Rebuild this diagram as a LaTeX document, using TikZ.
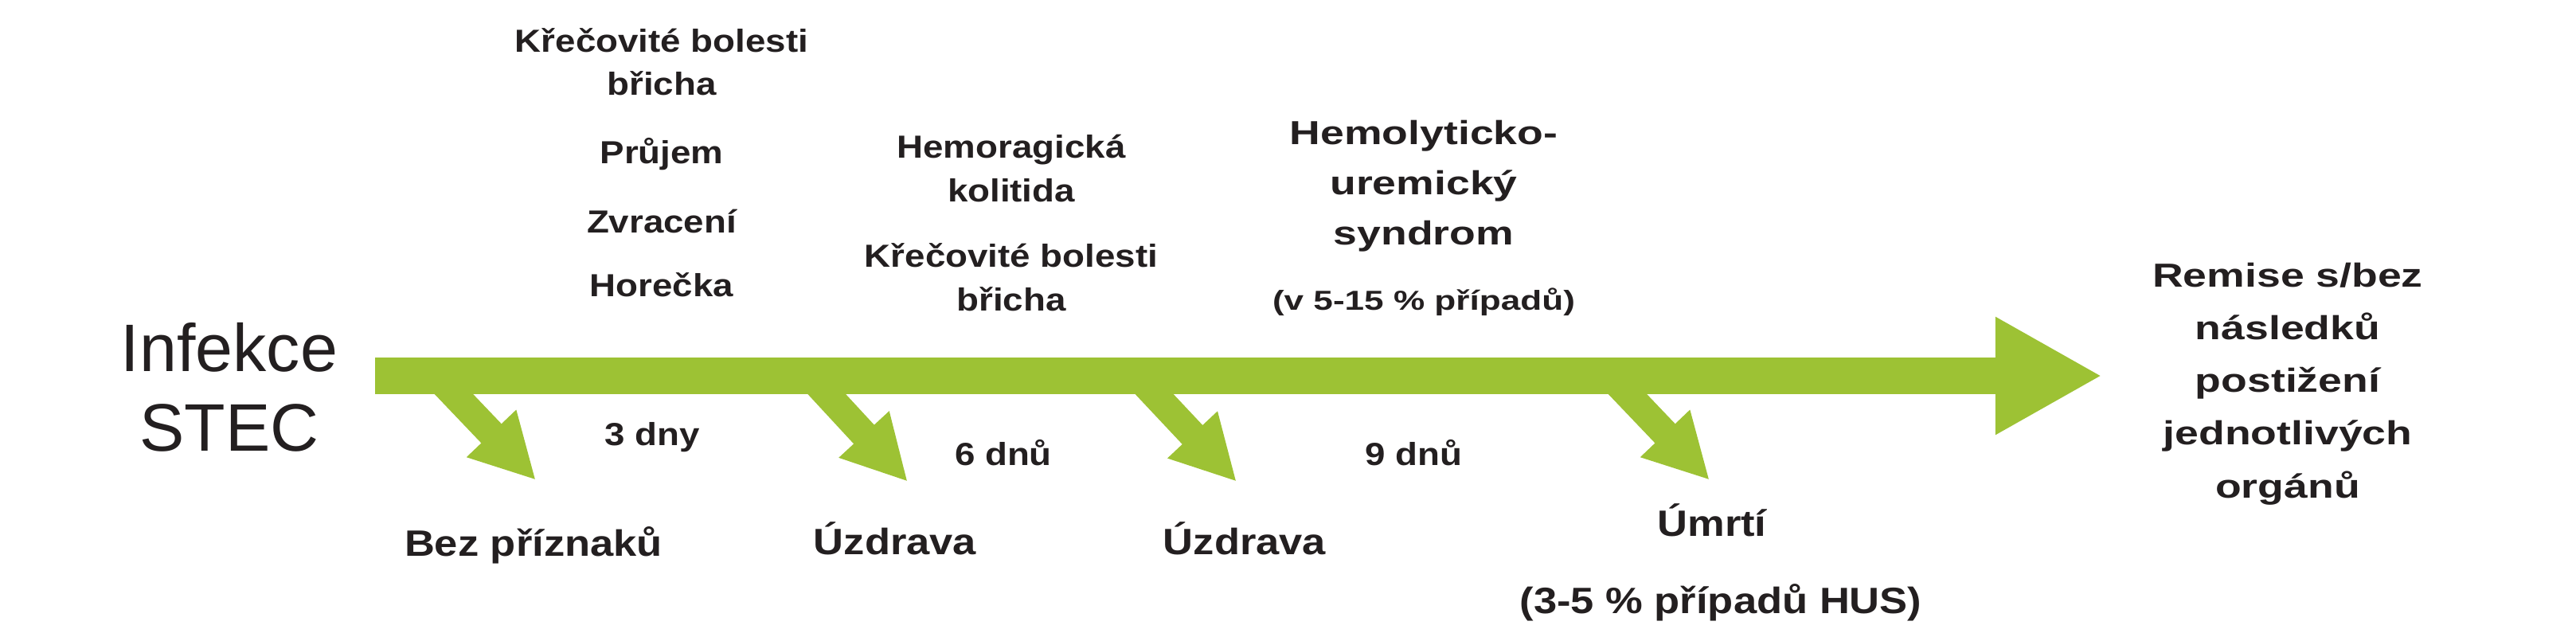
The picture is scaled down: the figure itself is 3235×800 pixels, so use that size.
\documentclass[tikz,border=0pt]{standalone}
\usepackage{fontspec}
\setmainfont{Liberation Sans}
\newfontfamily\lblfont[FakeStretch=1.14]{Liberation Sans}
\newfontfamily\widefont[FakeStretch=1.28]{Liberation Sans}
\usetikzlibrary{arrows.meta}
\definecolor{stecgreen}{RGB}{157,194,52}
\definecolor{stectext}{RGB}{35,31,32}

\begin{document}
\begin{tikzpicture}[x=0.01cm, y=-0.01cm,
    lbl/.style={text=stectext, align=center, inner sep=0pt, anchor=base,
        font=\lblfont\bfseries\fontsize{11.4}{15.5}\selectfont},
    outcome/.style={lbl, font=\lblfont\bfseries\fontsize{13.1}{16}\selectfont},
    wide/.style={lbl, font=\widefont\bfseries\fontsize{11.9}{17.8}\selectfont},
    timeline/.style={stecgreen, line width=0.45cm, -{Triangle[length=1.34cm, width=1.38cm]}},
    branch/.style={stecgreen, line width=0.35cm, -{Triangle[length=0.81cm, width=0.80cm]}}]
    \useasboundingbox (0,0) rectangle (3235,800);

    % start and end of the time line (base = last line)
    \node[text=stectext, align=center, inner sep=0pt, anchor=base,
        font=\fontsize{24}{28.2}\selectfont] (infekce) at (288,566) {Infekce\\STEC};
    \node[wide, font=\widefont\bfseries\fontsize{11.9}{18.8}\selectfont] (remise) at (2873,625)
        {Remise s/bez\\následků\\postižení\\jednotlivých\\orgánů};
    \coordinate (tstart) at (471,472);
    \coordinate (tend) at (2640,472);

    % symptoms above the line
    \node[lbl] (bolest1) at (831,120) {Křečovité bolesti\\břicha};
    \node[lbl] (prujem) at (831,205) {Průjem};
    \node[lbl] (zvraceni) at (831,292) {Zvracení};
    \node[lbl] (horecka) at (831,372) {Horečka};
    \node[lbl] (kolitida) at (1270,253) {Hemoragická\\kolitida};
    \node[lbl] (bolest2) at (1270,390) {Křečovité bolesti\\břicha};
    \node[wide] (hus) at (1788,307) {Hemolyticko-\\uremický\\syndrom};
    \node[wide, font=\widefont\bfseries\fontsize{9.8}{12}\selectfont] (husrate) at (1788,389)
        {(v 5-15 \% případů)};

    % days
    \node[lbl] (dny3) at (819,559) {3 dny};
    \node[lbl] (dny6) at (1260,584) {6 dnů};
    \node[lbl] (dny9) at (1775,584) {9 dnů};

    % outcomes below the line
    \node[outcome] (bez) at (670,698) {Bez příznaků};
    \node[outcome] (uzdrava1) at (1124,696) {Úzdrava};
    \node[outcome] (uzdrava2) at (1563,696) {Úzdrava};
    \node[outcome] (umrti) at (2150,673) {Úmrtí};
    \node[outcome] (umrtirate) at (2161,770) {(3-5 \% případů HUS)};

    \coordinate (b1) at (548,472);  \coordinate (e1) at (673,603);
    \coordinate (b2) at (1017,472); \coordinate (e2) at (1140,605);
    \coordinate (b3) at (1428,472); \coordinate (e3) at (1553,605);
    \coordinate (b4) at (2022,472); \coordinate (e4) at (2147,603);

    \foreach \i in {1,...,4}
        \draw[branch] (b\i) -- (e\i);
    \draw[timeline] (tstart) -- (tend);
\end{tikzpicture}
\end{document}
